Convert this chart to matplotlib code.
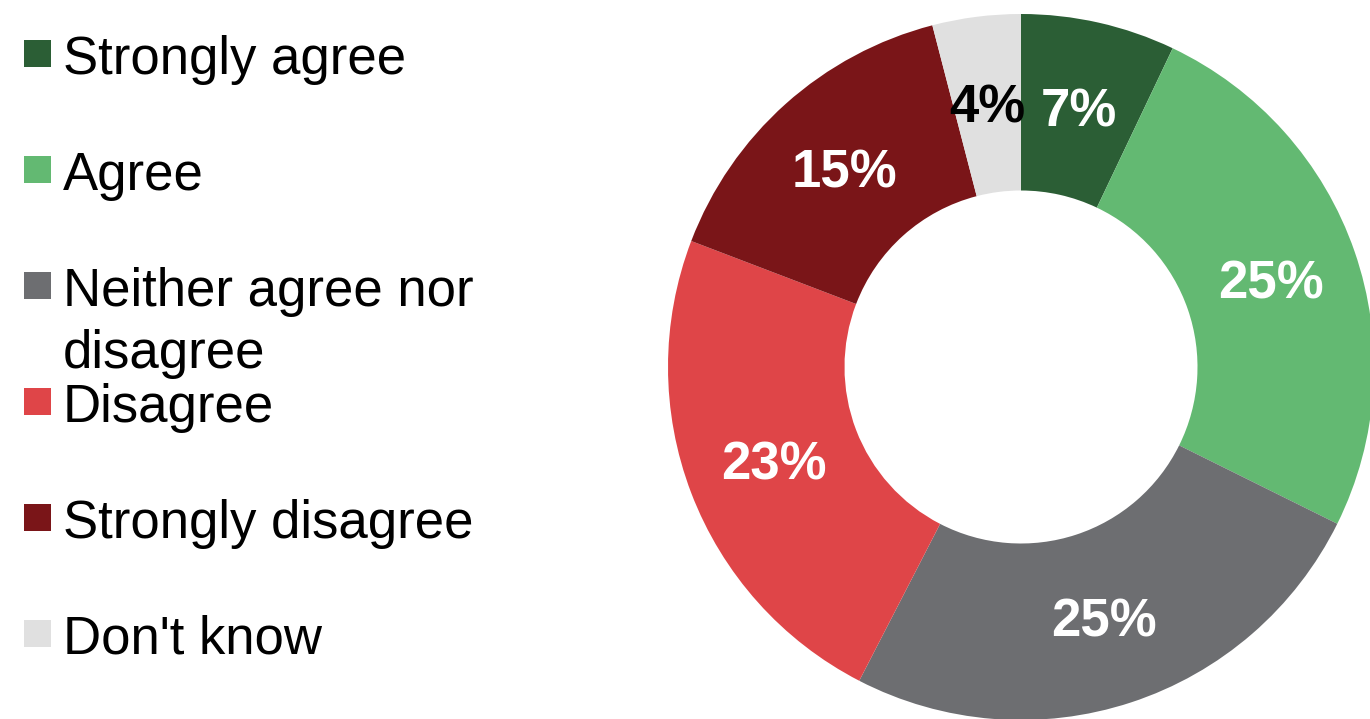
import matplotlib.pyplot as plt
from matplotlib.patches import Rectangle
import numpy as np

plt.rcParams['font.family'] = ['Liberation Sans', 'DejaVu Sans']

# survey responses (percent)
categories = ['Strongly agree', 'Agree', 'Neither agree nor\ndisagree',
              'Disagree', 'Strongly disagree', "Don't know"]
shares = [7, 25, 25, 23, 15, 4]
colors = ['#2b5e35', '#63b972', '#6d6e71', '#df4548', '#7a1518', '#e0e0e0']
label_colors = ['white', 'white', 'white', 'white', 'white', 'black']

W, H = 1370, 719
fig = plt.figure(figsize=(W / 100, H / 100), dpi=100)
ax = fig.add_axes([0, 0, 1, 1])

# donut, drawn in pixel-like units so sizes are easy to place
cx, cy, R = 1021, 352, 353
wedges, _ = ax.pie(shares, colors=colors, startangle=90, counterclock=False,
                   center=(cx, cy), radius=R,
                   wedgeprops=dict(width=R * 0.5, linewidth=0))

for w, val, tc in zip(wedges, shares, label_colors):
    mid = np.deg2rad((w.theta1 + w.theta2) / 2)
    rl = R * 0.75
    ax.text(cx + rl * np.cos(mid), cy + rl * np.sin(mid) - 4, f'{val}%',
            ha='center', va='center', fontsize=38, fontweight='bold', color=tc)

# legend on the left; wrapped labels continue below the first line
step = 116
line_h = 61.7
top = H - 53.5
for i, (lab, col) in enumerate(zip(categories, colors)):
    yc = top - i * step
    ax.add_patch(Rectangle((24, yc - 13.5), 27, 27, facecolor=col, edgecolor='none'))
    for j, part in enumerate(lab.split('\n')):
        ax.text(63, yc - 20.5 - j * line_h, part, ha='left', va='baseline',
                fontsize=38, color='black')

ax.set_xlim(0, W)
ax.set_ylim(0, H)
ax.set_aspect('auto')
ax.axis('off')

fig.savefig('out.png', dpi=100)
